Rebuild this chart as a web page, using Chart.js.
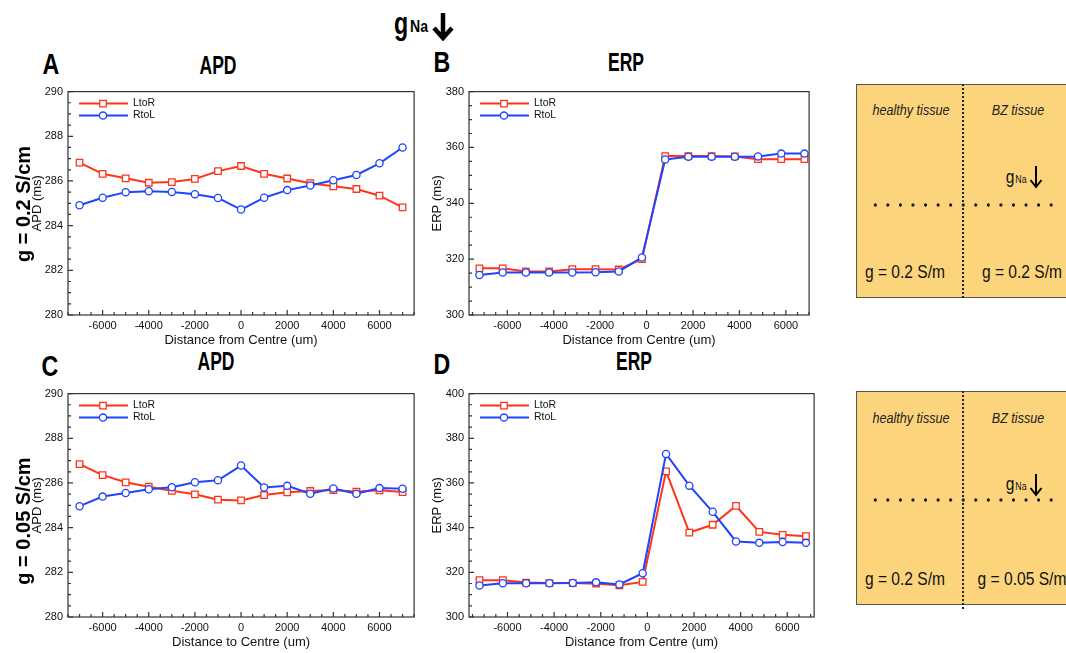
<!DOCTYPE html>
<html>
<head>
<meta charset="utf-8">
<script src="https://cdn.jsdelivr.net/npm/chart.js@4.4.1/dist/chart.umd.min.js"></script>
<style>
	body { margin: 0; background: #fff; width: 1066px; height: 653px; overflow: hidden; position: relative; font-family: "Liberation Sans", Arial, sans-serif; }
	canvas { position: absolute; }
	.t { position: absolute; transform: translate(-50%, -50%) scaleX(var(--s, 1)); white-space: nowrap; line-height: 1; color: #000; }
	.big { font-weight: bold; }
	.rot { transform: translate(-50%, -50%) rotate(-90deg) scaleX(var(--s, 1)); }
	.panel { position: absolute; left: 856px; width: 220px; height: 214px; background: #fcd47c; border: 1px solid #555; box-sizing: border-box; }
	.vline { position: absolute; left: 962px; width: 0; border-left: 2px dotted #222; }
	.dots { position: absolute; left: 869px; width: 190px; height: 6px; background: radial-gradient(circle, #1a1a2a 1.4px, transparent 1.9px) 0 0 / 12.57px 6px repeat-x; }
	.ital { font-style: italic; color: #222; }
	.lab { color: #111; }
</style>
</head>
<body>

<!-- header and panel labels -->
<div class="t big" style="left:401px;top:23px;font-size:31px;--s:0.75;">g</div>
<div class="t big" style="left:419px;top:27px;font-size:16px;--s:0.88;">Na</div>
<svg style="position:absolute;left:431px;top:13px;" width="24" height="28"><path d="M12 0 V24 M3 15 L12 25 L21 15" stroke="#000" stroke-width="4.5" fill="none"/></svg>

<div class="t big" style="left:51px;top:64px;font-size:29px;--s:0.8;">A</div>
<div class="t big" style="left:218px;top:65px;font-size:25px;--s:0.7;">APD</div>
<div class="t big" style="left:442px;top:62px;font-size:29px;--s:0.8;">B</div>
<div class="t big" style="left:626px;top:62px;font-size:25px;--s:0.7;">ERP</div>
<div class="t big" style="left:50px;top:366px;font-size:29px;--s:0.8;">C</div>
<div class="t big" style="left:216px;top:361px;font-size:25px;--s:0.7;">APD</div>
<div class="t big" style="left:442px;top:364px;font-size:29px;--s:0.8;">D</div>
<div class="t big" style="left:634px;top:361px;font-size:25px;--s:0.7;">ERP</div>

<canvas id="chartA" width="395" height="270" style="left:25px;top:80px;"></canvas>
<canvas id="chartB" width="390" height="270" style="left:425px;top:80px;"></canvas>
<canvas id="chartC" width="395" height="270" style="left:25px;top:382px;"></canvas>
<canvas id="chartD" width="395" height="270" style="left:425px;top:382px;"></canvas>

<div class="t big rot" style="left:23px;top:204px;font-size:20px;">g = 0.2 S/cm</div>
<div class="t big rot" style="left:23px;top:521px;font-size:20px;">g = 0.05 S/cm</div>

<!-- tissue diagrams -->
<div class="panel" style="top:84px;"></div>
<div class="vline" style="top:84px;height:214px;"></div>
<div class="dots" style="top:202px;"></div>
<div class="t ital" style="left:911px;top:109px;font-size:15px;--s:0.84;">healthy tissue</div>
<div class="t ital" style="left:1018px;top:109px;font-size:15px;--s:0.84;">BZ tissue</div>
<div class="t lab" style="left:1010px;top:176px;font-size:19px;--s:0.82;">g</div>
<div class="t lab" style="left:1021px;top:180px;font-size:10px;--s:0.88;">Na</div>
<svg style="position:absolute;left:1029px;top:166px;" width="14" height="23"><path d="M7 0 V21 M1.5 14 L7 21 L12.5 14" stroke="#000" stroke-width="2" fill="none"/></svg>
<div class="t lab" style="left:905px;top:271px;font-size:19px;--s:0.82;">g = 0.2 S/m</div>
<div class="t lab" style="left:1022px;top:271px;font-size:19px;--s:0.82;">g = 0.2 S/m</div>

<div class="panel" style="top:391px;"></div>
<div class="vline" style="top:391px;height:218px;"></div>
<div class="dots" style="top:497px;"></div>
<div class="t ital" style="left:911px;top:417px;font-size:15px;--s:0.84;">healthy tissue</div>
<div class="t ital" style="left:1018px;top:417px;font-size:15px;--s:0.84;">BZ tissue</div>
<div class="t lab" style="left:1010px;top:483px;font-size:19px;--s:0.82;">g</div>
<div class="t lab" style="left:1021px;top:487px;font-size:10px;--s:0.88;">Na</div>
<svg style="position:absolute;left:1029px;top:474px;" width="14" height="23"><path d="M7 0 V21 M1.5 14 L7 21 L12.5 14" stroke="#000" stroke-width="2" fill="none"/></svg>
<div class="t lab" style="left:905px;top:578px;font-size:19px;--s:0.82;">g = 0.2 S/m</div>
<div class="t lab" style="left:1022px;top:578px;font-size:19px;--s:0.82;">g = 0.05 S/m</div>

<script>
"use strict";

// positions along the strand (um)
const apdX = [-7000, -6000, -5000, -4000, -3000, -2000, -1000, 0, 1000, 2000, 3000, 4000, 5000, 6000, 7000];
const erpX = [-7200, -6200, -5200, -4200, -3200, -2200, -1200, -200, 800, 1800, 2800, 3800, 4800, 5800, 6800];

// tick labels
const xTickLabels = [-6000, -4000, -2000, 0, 2000, 4000, 6000];
const apdTickLabels = [280, 282, 284, 286, 288, 290];
const erpTickLabelsB = [300, 320, 340, 360, 380];
const erpTickLabelsD = [300, 320, 340, 360, 380, 400];

// A: APD, g = 0.2
const apdA_LtoR = [286.82, 286.32, 286.12, 285.92, 285.95, 286.09, 286.44, 286.67, 286.32, 286.11, 285.90, 285.76, 285.64, 285.34, 284.82];
const apdA_RtoL = [284.91, 285.25, 285.50, 285.54, 285.51, 285.41, 285.24, 284.72, 285.25, 285.59, 285.80, 286.03, 286.27, 286.79, 287.50];

// B: ERP, g = 0.2
const erpB_LtoR = [316.7, 316.7, 315.6, 315.6, 316.4, 316.4, 316.3, 320.0, 356.9, 356.9, 356.9, 356.8, 355.8, 355.8, 355.8];
const erpB_RtoL = [314.3, 315.2, 315.2, 315.2, 315.2, 315.3, 315.6, 320.6, 355.7, 356.7, 356.7, 356.7, 356.8, 357.8, 357.8];

// C: APD, g = 0.05
const apdC_LtoR = [286.84, 286.35, 286.03, 285.83, 285.65, 285.49, 285.25, 285.22, 285.46, 285.58, 285.64, 285.68, 285.61, 285.67, 285.59];
const apdC_RtoL = [284.96, 285.39, 285.55, 285.72, 285.81, 286.03, 286.12, 286.78, 285.80, 285.87, 285.52, 285.75, 285.52, 285.77, 285.74];

// D: ERP, g = 0.05
const erpD_LtoR = [316.5, 316.5, 315.4, 315.2, 315.2, 314.9, 314.2, 315.7, 365.2, 337.8, 341.3, 349.7, 338.1, 336.8, 336.2];
const erpD_RtoL = [314.1, 315.1, 315.1, 315.1, 315.2, 315.5, 314.6, 319.6, 373.0, 358.8, 347.1, 333.8, 333.2, 333.6, 333.2];

const RED = "#ff3418";
const BLUE = "#1f44ff";
const FONT = "'Liberation Sans', Arial, sans-serif";

// frame, inward ticks and in-plot legend
const frameTicks = {
	id: "frameTicks",
	afterDraw(chart, args, opts) {
		const ctx = chart.ctx;
		const a = chart.chartArea;
		const x = chart.scales.x;
		const y = chart.scales.y;
		ctx.save();
		ctx.strokeStyle = "#333";
		ctx.lineWidth = 1.2;
		ctx.strokeRect(a.left, a.top, a.right - a.left, a.bottom - a.top);
		
		ctx.beginPath();
		for (let v = Math.ceil(x.min / opts.xMinor) * opts.xMinor; v <= x.max; v += opts.xMinor) {
			const px = x.getPixelForValue(v);
			const len = opts.xMajor.includes(v) ? 5 : 3;
			ctx.moveTo(px, a.bottom);
			ctx.lineTo(px, a.bottom - len);
		}
		for (let v = Math.ceil(y.min / opts.yMinor) * opts.yMinor; v <= y.max; v += opts.yMinor) {
			const py = y.getPixelForValue(v);
			const len = opts.yMajor.includes(v) ? 5 : 3;
			ctx.moveTo(a.left, py);
			ctx.lineTo(a.left + len, py);
		}
		ctx.stroke();
		
		// legend inside the plot, top left
		ctx.font = "10.5px " + FONT;
		ctx.textBaseline = "middle";
		chart.data.datasets.forEach((ds, i) => {
			const ly = a.top + 12 + i * 12;
			ctx.strokeStyle = ds.borderColor;
			ctx.lineWidth = ds.borderWidth;
			ctx.beginPath();
			ctx.moveTo(a.left + 11, ly);
			ctx.lineTo(a.left + 60, ly);
			ctx.stroke();
			ctx.fillStyle = "#fff";
			ctx.lineWidth = ds.pointBorderWidth;
			Chart.helpers.drawPoint(ctx, {pointStyle: ds.pointStyle, rotation: 0, radius: ds.pointRadius, borderWidth: ds.pointBorderWidth}, a.left + 35, ly);
			ctx.fillStyle = "#111";
			ctx.fillText(ds.label, a.left + 65, ly);
		});
		ctx.restore();
	}
};

function series(xs, ys) {
	return xs.map((v, i) => ({x: v, y: ys[i]}));
}

function makeChart(id, c) {
	return new Chart(document.getElementById(id), {
		type: "line",
		data: {
			datasets: [
				{
					label: "LtoR",
					data: series(c.xs, c.ltor),
					borderColor: RED,
					borderWidth: 2,
					pointStyle: "rect",
					pointRadius: 4.6,
					pointBorderWidth: 1.3,
					pointBackgroundColor: "#fff",
					pointBorderColor: RED,
					order: 1,
				},
				{
					label: "RtoL",
					data: series(c.xs, c.rtol),
					borderColor: BLUE,
					borderWidth: 2,
					pointStyle: "circle",
					pointRadius: 3.6,
					pointBorderWidth: 1.3,
					pointBackgroundColor: "#fff",
					pointBorderColor: BLUE,
					order: 0,
				},
			],
		},
		options: {
			responsive: false,
			animation: false,
			devicePixelRatio: 1,
			layout: {padding: {top: 5, right: 5, left: 0, bottom: 0}},
			plugins: {
				legend: {display: false},
				tooltip: {enabled: false},
				frameTicks: {xMinor: 500, xMajor: xTickLabels, yMinor: c.yMinor, yMajor: c.yTicks},
			},
			scales: {
				x: {
					type: "linear",
					min: c.xMin,
					max: c.xMax,
					grid: {display: false, drawTicks: false},
					border: {display: false},
					afterBuildTicks: s => { s.ticks = xTickLabels.map(v => ({value: v})); },
					afterFit: s => { s.height = 35; },
					ticks: {color: "#111", font: {family: FONT, size: 11}, padding: 4, maxRotation: 0, autoSkip: false, callback: v => String(v)},
					title: {display: true, text: c.xTitle, color: "#111", font: {family: FONT, size: 13}, padding: {top: 0, bottom: 2}},
				},
				y: {
					min: c.yMin,
					max: c.yMax,
					grid: {display: false, drawTicks: false},
					border: {display: false},
					afterBuildTicks: s => { s.ticks = c.yTicks.map(v => ({value: v})); },
					afterFit: s => { s.width = c.yWidth; },
					ticks: {color: "#111", font: {family: FONT, size: 11}, padding: 5, callback: v => String(v)},
					title: {display: true, text: c.yTitle, color: "#111", font: {family: FONT, size: 13}, padding: {top: 5, bottom: 0}},
				},
			},
		},
		plugins: [frameTicks],
	});
}

makeChart("chartA", {xs: apdX, ltor: apdA_LtoR, rtol: apdA_RtoL, xMin: -7500, xMax: 7500, yMin: 280, yMax: 290,
	yTicks: apdTickLabels, yMinor: 0.5, yWidth: 43, yTitle: "APD (ms)", xTitle: "Distance from Centre (um)"});
makeChart("chartB", {xs: erpX, ltor: erpB_LtoR, rtol: erpB_RtoL, xMin: -7650, xMax: 7000, yMin: 300, yMax: 380,
	yTicks: erpTickLabelsB, yMinor: 5, yWidth: 44, yTitle: "ERP (ms)", xTitle: "Distance from Centre (um)"});
makeChart("chartC", {xs: apdX, ltor: apdC_LtoR, rtol: apdC_RtoL, xMin: -7500, xMax: 7500, yMin: 280, yMax: 290,
	yTicks: apdTickLabels, yMinor: 0.5, yWidth: 43, yTitle: "APD (ms)", xTitle: "Distance to Centre (um)"});
makeChart("chartD", {xs: erpX, ltor: erpD_LtoR, rtol: erpD_RtoL, xMin: -7650, xMax: 7150, yMin: 300, yMax: 400,
	yTicks: erpTickLabelsD, yMinor: 5, yWidth: 44, yTitle: "ERP (ms)", xTitle: "Distance from Centre (um)"});
</script>
</body>
</html>
